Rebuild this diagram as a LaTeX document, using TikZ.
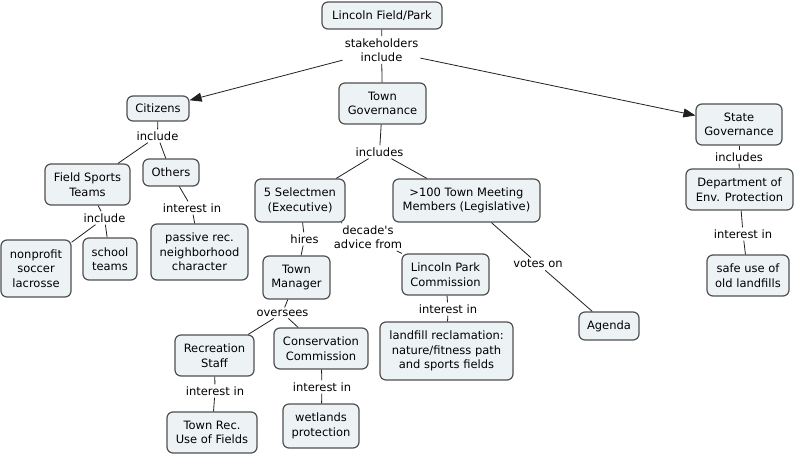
\documentclass[tikz,border=0pt]{standalone}
\usepackage{fontspec}
\newfontfamily\vfont{DejaVu Sans}
\usetikzlibrary{arrows.meta}
\definecolor{boxfill}{HTML}{EDF3F5}
\definecolor{boxline}{HTML}{505050}
\definecolor{linkline}{HTML}{202020}
\tikzset{
  concept/.style 2 args={draw=boxline, line width=1.2pt, fill=boxfill, rounded corners=6pt,
    align=center, inner sep=2pt, minimum width=#1pt, minimum height=#2pt,
    font=\vfont\fontsize{11.5}{14.5}\selectfont},
  linklabel/.style={align=center, inner sep=2pt, font=\vfont\fontsize{11.5}{14.5}\selectfont},
  conn/.style={draw=linkline, line width=0.8pt},
  arr/.style={conn, -{Triangle[length=12pt,width=9pt]}}
}
\begin{document}
\begin{tikzpicture}[x=1pt,y=-1pt]
\useasboundingbox (0,0) rectangle (795,454);
% concepts
\node[concept={120}{27}] (lfp) at (382,15.5) {Lincoln Field/Park};
\node[concept={62}{25}] (cit) at (158,108.5) {Citizens};
\node[concept={87}{41}] (tg) at (382.5,103.5) {Town\\Governance};
\node[concept={86}{41}] (sg) at (739,124.5) {State\\Governance};
\node[concept={85}{41}] (fst) at (87.5,184.5) {Field Sports\\Teams};
\node[concept={56}{27}] (oth) at (171,172.5) {Others};
\node[concept={70}{57}] (npsl) at (36,268.5) {nonprofit\\soccer\\lacrosse};
\node[concept={54}{42}] (st) at (110,259) {school\\teams};
\node[concept={97}{56}] (prnc) at (199.5,252) {passive rec.\\neighborhood\\character};
\node[concept={90}{43}] (sel) at (300,200.5) {5 Selectmen\\(Executive)};
\node[concept={147}{43}] (tmm) at (466.5,200.5) {>100 Town Meeting\\Members (Legislative)};
\node[concept={67}{43}] (tm) at (296.5,277.5) {Town\\Manager};
\node[concept={87}{41}] (lpc) at (445.5,274.5) {Lincoln Park\\Commission};
\node[concept={60}{28}] (ag) at (609,326) {Agenda};
\node[concept={133}{58}] (lr) at (446.5,351) {landfill reclamation:\\nature/fitness path\\and sports fields};
\node[concept={79}{41}] (rs) at (214.5,355.5) {Recreation\\Staff};
\node[concept={94}{41}] (cc) at (321,348.5) {Conservation\\Commission};
\node[concept={90}{41}] (tr) at (212,432.5) {Town Rec.\\Use of Fields};
\node[concept={76}{44}] (wp) at (321,426) {wetlands\\protection};
\node[concept={107}{41}] (dep) at (739.5,189.5) {Department of\\Env. Protection};
\node[concept={82}{41}] (sol) at (748,275.5) {safe use of\\old landfills};
% link labels
\node[linklabel] (sh) at (381.5,50) {stakeholders\\include};
\node[linklabel] (inca) at (157.5,136) {include};
\node[linklabel] (incb) at (104.5,218) {include};
\node[linklabel] (into) at (192,208) {interest in};
\node[linklabel] (incs) at (379.5,152) {includes};
\node[linklabel] (hir) at (304.5,239) {hires};
\node[linklabel] (dadv) at (368,237) {decade's\\advice from};
\node[linklabel] (ovs) at (282.5,313) {oversees};
\node[linklabel] (intr) at (215,391) {interest in};
\node[linklabel] (intc) at (322,387) {interest in};
\node[linklabel] (intl) at (448,309) {interest in};
\node[linklabel] (vot) at (538,264) {votes on};
\node[linklabel] (incsg) at (739,157) {includes};
\node[linklabel] (intd) at (743,234) {interest in};
% connectors
\draw[conn] (lfp) -- (sh);
\draw[arr] (sh) -- (cit);
\draw[conn] (sh) -- (tg);
\draw[arr] (sh) -- (sg);
\draw[conn] (cit) -- (inca);
\draw[conn] (inca) -- (fst);
\draw[conn] (inca) -- (oth);
\draw[conn] (fst) -- (incb);
\draw[conn] (incb) -- (npsl);
\draw[conn] (incb) -- (st);
\draw[conn] (oth) -- (into);
\draw[conn] (into) -- (prnc);
\draw[conn] (tg) -- (incs);
\draw[conn] (incs) -- (sel);
\draw[conn] (incs) -- (tmm);
\draw[conn] (sel) -- (hir);
\draw[conn] (hir) -- (tm);
\draw[conn] (sel) -- (dadv);
\draw[conn] (dadv) -- (lpc);
\draw[conn] (tm) -- (ovs);
\draw[conn] (ovs) -- (rs);
\draw[conn] (ovs) -- (cc);
\draw[conn] (rs) -- (intr);
\draw[conn] (intr) -- (tr);
\draw[conn] (cc) -- (intc);
\draw[conn] (intc) -- (wp);
\draw[conn] (lpc) -- (intl);
\draw[conn] (intl) -- (lr);
\draw[conn] (tmm) -- (vot);
\draw[conn] (vot) -- (ag);
\draw[conn] (sg) -- (incsg);
\draw[conn] (incsg) -- (dep);
\draw[conn] (dep) -- (intd);
\draw[conn] (intd) -- (sol);
\end{tikzpicture}
\end{document}
